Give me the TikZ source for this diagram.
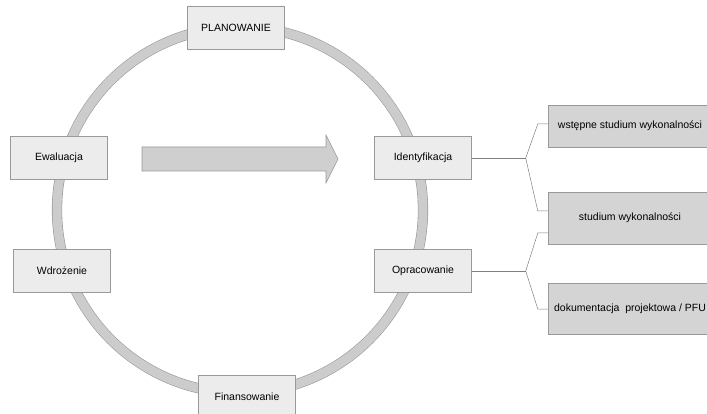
\documentclass[tikz,border=0pt]{standalone}
\usepackage{fontspec}
\setmainfont{Liberation Sans}
\begin{document}
\begin{tikzpicture}[
    x=1pt, y=-1pt,
    font=\fontsize{10.5}{12}\selectfont,
    stage/.style={rectangle, draw=gray!80, fill=gray!15, minimum width=97pt, minimum height=43pt, align=center},
    task/.style={rectangle, draw=gray!80, fill=gray!34, minimum width=164pt, align=center},
    ring/.style={draw=gray!80, double=gray!40, double distance=9pt, line width=0.6pt},
    bigarrow/.style={draw=gray!80, fill=gray!38, line width=0.6pt},
    link/.style={draw=gray, line width=0.5pt}
]
    \useasboundingbox (0,0) rectangle (707,414);

    \draw[ring] (240,210) circle[radius=183pt];

    \node[stage] (plan) at (236,28) {PLANOWANIE};
    \node[stage] (ewal) at (59,158) {Ewaluacja};
    \node[stage] (ident) at (423,158) {Identyfikacja};
    \node[stage] (wdro) at (62,271) {Wdrożenie};
    \node[stage] (oprac) at (423,271) {Opracowanie};
    \node[stage] (finan) at (247,397) {Finansowanie};

    \draw[bigarrow] (142,147) -- (326,147) -- (326,135) -- (338,159) -- (326,183) -- (326,171) -- (142,171) -- cycle;

    \node[task, minimum height=42pt] (wst) at (630,126) {wstępne studium wykonalności};
    \node[task, minimum height=52pt] (stud) at (630,218) {studium wykonalności};
    \node[task, minimum height=51pt] (dok) at (630,309) {dokumentacja~~projektowa / PFU};

    \draw[link] (ident.east) -- ++(54,0) coordinate (fork1);
    \draw[link] (fork1) -- ([xshift=-10pt,yshift=2pt]wst.west) -- ([yshift=2pt]wst.west);
    \draw[link] (fork1) -- ([xshift=-10pt,yshift=7pt]stud.west) -- ([yshift=7pt]stud.west);

    \draw[link] (oprac.east) -- ++(54,0) coordinate (fork2);
    \draw[link] (fork2) -- ([xshift=-10pt,yshift=-15pt]stud.west) -- ([yshift=-15pt]stud.west);
    \draw[link] (fork2) -- ([xshift=-10pt]dok.west) -- (dok.west);
\end{tikzpicture}
\end{document}
